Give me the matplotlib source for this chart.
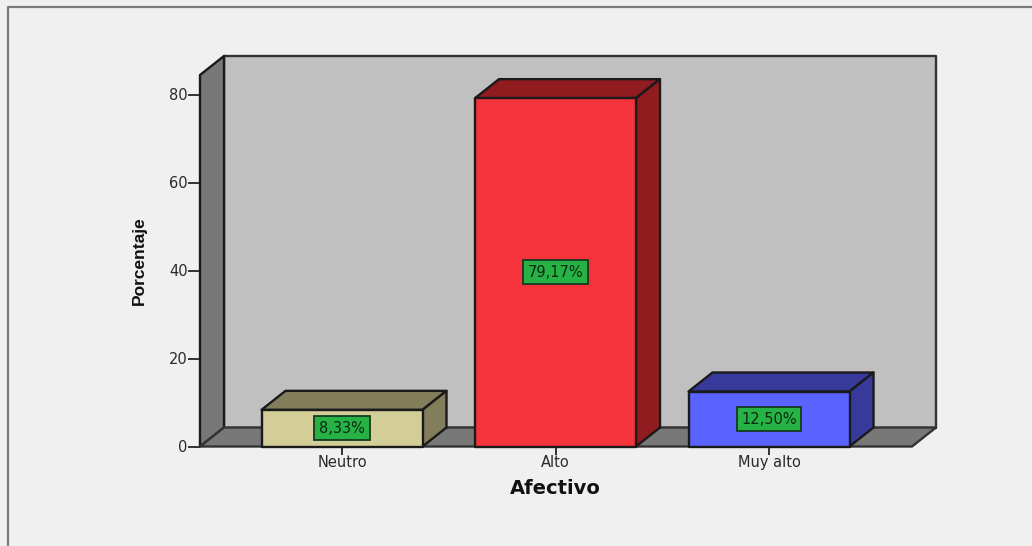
import matplotlib
matplotlib.use("Agg")
import matplotlib.pyplot as plt
from matplotlib.patches import Polygon

categories = ["Neutro", "Alto", "Muy alto"]
values = [8.33, 79.17, 12.50]
labels = ["8,33%", "79,17%", "12,50%"]
front_colors = ["#d3ce97", "#f4333a", "#5a62ff"]
side_colors = ["#827e5c", "#901c20", "#37399b"]
y_ticks = [0, 20, 40, 60, 80]

W, H = 1032, 546
BG = "#f0f0f0"
EDGE = "#1a1a1a"
TXT = "#2a2a2a"

fig = plt.figure(figsize=(W / 100, H / 100), dpi=100, facecolor=BG)

# figure frame
fig.add_artist(plt.Line2D([7.5 / W, 7.5 / W, 1], [0, 1 - 6.5 / H, 1 - 6.5 / H],
                          color="#7a7a7a", lw=1.6, transform=fig.transFigure))

# axes: front plane in pixels
x0, x1, ytop, ybot = 200, 912, 75, 446.5
ax = fig.add_axes([x0 / W, 1 - ybot / H, (x1 - x0) / W, (ybot - ytop) / H])
px_per_cat = 213.5
px_per_unit = 4.4
cat_at_x0 = -(342 - x0) / px_per_cat
xmin, xmax = cat_at_x0, cat_at_x0 + (x1 - x0) / px_per_cat
ymax = (ybot - ytop) / px_per_unit
ax.set_xlim(xmin, xmax)
ax.set_ylim(0, ymax)
ax.patch.set_alpha(0)
for s in ax.spines.values():
    s.set_visible(False)

dx = 24 / px_per_cat
dy = 19 / px_per_unit
bw = 161 / px_per_cat


def poly(pts, fc, z, ec=EDGE, lw=1.7):
    ax.add_patch(Polygon(pts, closed=True, fc=fc, ec=ec, lw=lw, zorder=z,
                         clip_on=False, joinstyle="round"))


# walls
poly([(xmin + dx, dy), (xmax + dx, dy), (xmax + dx, ymax + dy), (xmin + dx, ymax + dy)],
     "#c0c0c0", 1, ec="#333333")
poly([(xmin, 0), (xmin + dx, dy), (xmin + dx, ymax + dy), (xmin, ymax)], "#787878", 2)
poly([(xmin, 0), (xmax, 0), (xmax + dx, dy), (xmin + dx, dy)], "#787878", 2, ec="#333333")

# bars
for i, (v, lab, fc, sc) in enumerate(zip(values, labels, front_colors, side_colors)):
    l, r = i - bw / 2, i + bw / 2
    poly([(l, v), (r, v), (r + dx, v + dy), (l + dx, v + dy)], sc, 3)
    poly([(r, 0), (r + dx, dy), (r + dx, v + dy), (r, v)], sc, 3)
    poly([(l, 0), (r, 0), (r, v), (l, v)], fc, 4)
    ax.text(i, v / 2, lab, ha="center", va="center", fontsize=10.5, color="#0c2a12",
            family="DejaVu Sans", zorder=6,
            bbox=dict(boxstyle="square,pad=0.32", fc="#27b246", ec="#163a20", lw=1.3))

ax.set_xticks(range(len(categories)))
ax.set_xticklabels(categories, fontsize=10.5, color=TXT, family="DejaVu Sans")
ax.set_yticks(y_ticks)
ax.set_yticklabels([str(t) for t in y_ticks], fontsize=10.5, color=TXT, family="DejaVu Sans")
ax.tick_params(axis="x", length=5.5, width=1.4, color="#333333", pad=0.5)
ax.tick_params(axis="y", length=8.5, width=1.4, color="#333333", pad=0.5)

fig.text(555 / W, 1 - 488 / H, "Afectivo", ha="center", va="center", fontsize=14,
         fontweight="bold", color="#111111", family="DejaVu Sans")
fig.text(139 / W, 1 - 261 / H, "Porcentaje", ha="center", va="center", rotation=90,
         fontsize=12.5, fontweight="bold", color="#111111",
         family=["Liberation Sans Narrow", "Liberation Sans"])

fig.savefig("out.png", dpi=100, facecolor=BG)
